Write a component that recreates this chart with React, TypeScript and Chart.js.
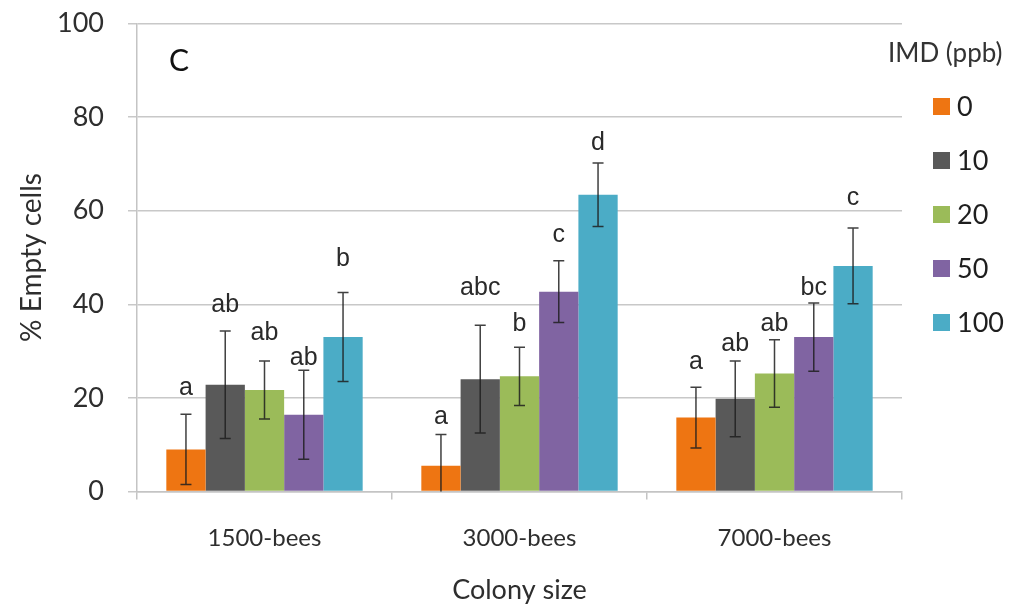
import React, { useEffect, useRef } from 'react';
import { Chart, registerables } from 'chart.js';

Chart.register(...registerables);

// ---------- data ----------
const categories = ['1500-bees', '3000-bees', '7000-bees'];
const seriesNames = ['0', '10', '20', '50', '100'];
const seriesColors = ['#EE7512', '#595959', '#9BBB59', '#8064A2', '#4BACC6'];

const imd0 = [9.0, 5.5, 15.8];
const imd10 = [22.8, 24.0, 19.8];
const imd20 = [21.7, 24.6, 25.2];
const imd50 = [16.4, 42.7, 33.0];
const imd100 = [33.0, 63.4, 48.2];

const err0 = [7.5, 6.7, 6.5];
const err10 = [11.5, 11.5, 8.1];
const err20 = [6.2, 6.2, 7.2];
const err50 = [9.5, 6.6, 7.3];
const err100 = [9.5, 6.8, 8.1];

const sig0 = ['a', 'a', 'a'];
const sig10 = ['ab', 'abc', 'ab'];
const sig20 = ['ab', 'b', 'ab'];
const sig50 = ['ab', 'c', 'bc'];
const sig100 = ['b', 'd', 'c'];

// value level (in % units) at which each significance letter sits
const sigLevel0 = [22.0, 15.9, 27.7];
const sigLevel10 = [39.8, 43.5, 31.6];
const sigLevel20 = [33.8, 35.8, 35.8];
const sigLevel50 = [28.5, 54.8, 43.4];
const sigLevel100 = [49.7, 74.4, 62.7];

const yMin = 0;
const yMax = 100;
const yStep = 20;

const panelLabel = 'C';
const legendTitle = 'IMD (ppb)';
const yTitle = '% Empty cells';
const xTitle = 'Colony size';

const seriesValues = [imd0, imd10, imd20, imd50, imd100];
const seriesErrors = [err0, err10, err20, err50, err100];
const seriesSig = [sig0, sig10, sig20, sig50, sig100];
const seriesSigLevel = [sigLevel0, sigLevel10, sigLevel20, sigLevel50, sigLevel100];

const UI_FONT = 'Lato, "Open Sans", sans-serif';
const LETTER_FONT = '"Liberation Sans", Arial, sans-serif';

const overlayPlugin = {
  id: 'overlay',
  afterDatasetsDraw(chart: any) {
    const { ctx, chartArea } = chart;
    const yScale = chart.scales.y;
    ctx.save();
    // error bars
    ctx.strokeStyle = 'rgba(30,30,30,0.85)';
    ctx.lineWidth = 1.5;
    seriesValues.forEach((vals, i) => {
      const meta = chart.getDatasetMeta(i);
      vals.forEach((v, j) => {
        const bar = meta.data[j];
        if (!bar) return;
        const e = seriesErrors[i][j];
        const hi = yScale.getPixelForValue(v + e);
        const lo = yScale.getPixelForValue(Math.max(yMin, v - e));
        const x = bar.x;
        ctx.beginPath();
        ctx.moveTo(x, hi);
        ctx.lineTo(x, lo);
        ctx.moveTo(x - 5.5, hi);
        ctx.lineTo(x + 5.5, hi);
        if (v - e > yMin) {
          ctx.moveTo(x - 5.5, lo);
          ctx.lineTo(x + 5.5, lo);
        }
        ctx.stroke();
      });
    });
    // significance letters
    ctx.fillStyle = '#2a2a2a';
    ctx.font = `25px ${LETTER_FONT}`;
    ctx.textAlign = 'center';
    ctx.textBaseline = 'middle';
    seriesSig.forEach((letters, i) => {
      const meta = chart.getDatasetMeta(i);
      letters.forEach((t, j) => {
        const bar = meta.data[j];
        if (!bar) return;
        ctx.fillText(t, bar.x, yScale.getPixelForValue(seriesSigLevel[i][j]));
      });
    });
    // panel label
    ctx.fillStyle = '#111111';
    ctx.font = `30px ${UI_FONT}`;
    ctx.textAlign = 'left';
    ctx.fillText(panelLabel, chartArea.left + 32, chartArea.top + 38);

    // legend
    const lx = chartArea.right;
    ctx.fillStyle = '#333333';
    ctx.font = `26px ${UI_FONT}`;
    ctx.textAlign = 'left';
    ctx.fillText(legendTitle, lx - 14, chartArea.top + 30);
    ctx.font = `27px ${UI_FONT}`;
    chart.data.datasets.forEach((ds: any, i: number) => {
      const cy = chartArea.top + 83 + i * 54;
      ctx.fillStyle = ds.backgroundColor;
      ctx.fillRect(lx + 31, cy - 8.5, 17, 17);
      ctx.fillStyle = '#1e1e1e';
      ctx.fillText(ds.label, lx + 55, cy + 1);
    });
    ctx.restore();
  },
};

export default function App() {
  const canvasRef = useRef<HTMLCanvasElement | null>(null);

  useEffect(() => {
    document.body.style.margin = '0';
    const canvas = canvasRef.current;
    if (!canvas) return;
    const chart = new Chart(canvas, {
      type: 'bar',
      data: {
        labels: categories,
        datasets: seriesNames.map((name, i) => ({
          label: name,
          data: seriesValues[i],
          backgroundColor: seriesColors[i],
          borderWidth: 0,
          categoryPercentage: 0.77,
          barPercentage: 1.0,
        })),
      },
      options: {
        animation: false,
        responsive: false,
        maintainAspectRatio: false,
        devicePixelRatio: 1,
        layout: { padding: { top: 23.5, right: 130, left: 0, bottom: 0 } },
        plugins: {
          legend: { display: false },
          tooltip: { enabled: false },
          title: { display: false },
        },
        scales: {
          x: {
            grid: {
              display: true,
              drawOnChartArea: false,
              drawTicks: true,
              tickLength: 8,
              color: '#c4c4c4',
              lineWidth: 1.5,
              offset: true,
            },
            border: { display: true, color: '#c4c4c4', width: 1.5 },
            ticks: {
              color: '#2e2e2e',
              font: { family: UI_FONT, size: 24 },
              padding: 24,
            },
            title: {
              display: true,
              text: xTitle,
              color: '#2e2e2e',
              font: { family: UI_FONT, size: 27 },
              padding: { top: 0, bottom: 4 },
            },
            afterFit(scale: any) {
              scale.height = 118.5;
              scale.paddingLeft = 0;
              scale.paddingRight = 0;
            },
          },
          y: {
            min: yMin,
            max: yMax,
            ticks: {
              stepSize: yStep,
              color: '#2e2e2e',
              font: { family: UI_FONT, size: 27 },
              padding: 24,
            },
            grid: {
              color: '#c8c8c8',
              lineWidth: 1.5,
              tickLength: 9,
            },
            border: { display: true, color: '#c4c4c4', width: 1.5 },
            title: {
              display: true,
              text: yTitle,
              color: '#2e2e2e',
              font: { family: UI_FONT, size: 28 },
              padding: { top: 15, bottom: 0 },
            },
            afterFit(scale: any) {
              scale.width = 137;
              scale.paddingTop = 0;
              scale.paddingBottom = 0;
            },
          },
        },
      },
      plugins: [overlayPlugin],
    });
    return () => chart.destroy();
  }, []);

  return (
    <div style={{ position: 'absolute', left: 0, top: 0, width: 1032, height: 610, background: '#ffffff' }}>
      <canvas ref={canvasRef} width={1032} height={610} style={{ display: 'block', width: 1032, height: 610 }} />
    </div>
  );
}
